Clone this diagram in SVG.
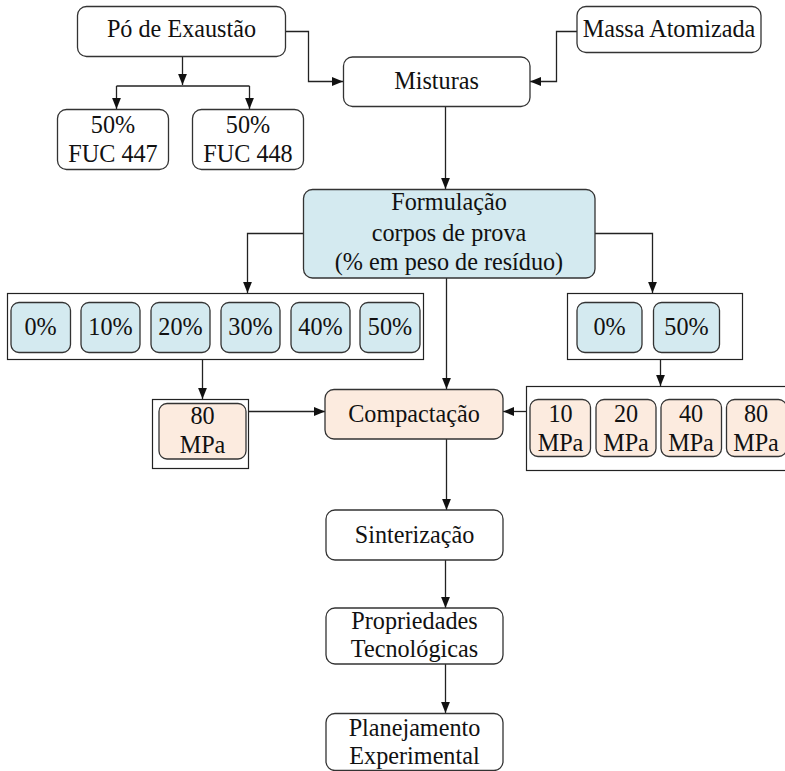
<svg xmlns="http://www.w3.org/2000/svg" width="785" height="771" viewBox="0 0 785 771">
  <style>
    .bg { fill: #ffffff; }
    .node { fill: #ffffff; stroke: #333333; stroke-width: 1.3; }
    .blue { fill: #d4eaf0; stroke: #333333; stroke-width: 1.3; }
    .peach { fill: #fcebdf; stroke: #333333; stroke-width: 1.3; }
    .frame { fill: #ffffff; stroke: #222222; stroke-width: 1.2; }
    .lbl { font-size: 24.2px; fill: #111111; text-anchor: middle; }
    .edge { fill: none; stroke: #222222; stroke-width: 1.3; }
  </style>
  <defs>
    <marker id="arrow" viewBox="0 0 10 8" refX="10" refY="4" markerWidth="11" markerHeight="9" markerUnits="userSpaceOnUse" orient="auto">
      <path d="M0,0 L10,4 L0,8 z" fill="#111111"/>
    </marker>
  </defs>
  <rect class="bg" x="0" y="0" width="785" height="771"/>

  <!-- group frames -->
  <rect id="frame-percent-left" class="frame" x="7.5" y="293.5" width="416" height="66"/>
  <rect id="frame-percent-right" class="frame" x="567.5" y="293.5" width="175" height="66"/>
  <rect id="frame-80mpa" class="frame" x="152.5" y="399.5" width="96" height="69"/>
  <rect id="frame-pressures" class="frame" x="526.5" y="386.5" width="280" height="84"/>

  <!-- connectors -->
  <g id="connectors">
    <path class="edge" d="M182.5,57 V85" marker-end="url(#arrow)"/>
    <path class="edge" d="M116.5,86 H249.5"/>
    <path class="edge" d="M116.5,86 V109" marker-end="url(#arrow)"/>
    <path class="edge" d="M249.5,86 V109" marker-end="url(#arrow)"/>
    <path class="edge" d="M286,31.5 H308.5 V81.5 H343" marker-end="url(#arrow)"/>
    <path class="edge" d="M577,31.5 H556.5 V81.5 H530" marker-end="url(#arrow)"/>
    <path class="edge" d="M445.5,107 V189" marker-end="url(#arrow)"/>
    <path class="edge" d="M303,233.5 H247.5 V293" marker-end="url(#arrow)"/>
    <path class="edge" d="M595,233.5 H652.5 V293" marker-end="url(#arrow)"/>
    <path class="edge" d="M446.5,278 V389" marker-end="url(#arrow)"/>
    <path class="edge" d="M202.5,360 V399" marker-end="url(#arrow)"/>
    <path class="edge" d="M660.5,360 V386" marker-end="url(#arrow)"/>
    <path class="edge" d="M249,411.5 H325" marker-end="url(#arrow)"/>
    <path class="edge" d="M526,411.5 H503" marker-end="url(#arrow)"/>
    <path class="edge" d="M446.5,439 V510" marker-end="url(#arrow)"/>
    <path class="edge" d="M445.5,560 V608" marker-end="url(#arrow)"/>
    <path class="edge" d="M445.5,664 V713" marker-end="url(#arrow)"/>
  </g>

  <g font-family="'Liberation Serif', serif">
  <g id="po-exaustao">
    <rect class="node" x="77.5" y="6.5" width="208" height="50" rx="9"/>
    <text class="lbl" x="181.5" y="37">Pó de Exaustão</text>
  </g>
  <g id="fuc-447">
    <rect class="node" x="57.5" y="109.5" width="111" height="60" rx="9"/>
    <text class="lbl" x="113" y="132.5">50%</text>
    <text class="lbl" x="113" y="162">FUC 447</text>
  </g>
  <g id="fuc-448">
    <rect class="node" x="192.5" y="109.5" width="111" height="60" rx="9"/>
    <text class="lbl" x="248" y="132.5">50%</text>
    <text class="lbl" x="248" y="162">FUC 448</text>
  </g>
  <g id="massa-atomizada">
    <rect class="node" x="577" y="6.5" width="184" height="46" rx="9"/>
    <text class="lbl" x="669" y="37">Massa Atomizada</text>
  </g>
  <g id="misturas">
    <rect class="node" x="343.5" y="57" width="186.5" height="49.5" rx="9"/>
    <text class="lbl" x="436.5" y="89">Misturas</text>
  </g>
  <g id="formulacao">
    <rect class="blue" x="303.5" y="189.5" width="291.5" height="88.5" rx="9"/>
    <text class="lbl" x="449" y="210">Formulação</text>
    <text class="lbl" x="449" y="241">corpos de prova</text>
    <text class="lbl" x="449" y="270">(% em peso de resíduo)</text>
  </g>

  <g id="pct-0">
    <rect class="blue" x="11" y="302.5" width="59.5" height="50" rx="8"/>
    <text class="lbl" x="40.5" y="335">0%</text>
  </g>
  <g id="pct-10">
    <rect class="blue" x="81" y="302.5" width="59" height="50" rx="8"/>
    <text class="lbl" x="110.5" y="335">10%</text>
  </g>
  <g id="pct-20">
    <rect class="blue" x="151" y="302.5" width="59" height="50" rx="8"/>
    <text class="lbl" x="180.5" y="335">20%</text>
  </g>
  <g id="pct-30">
    <rect class="blue" x="221" y="302.5" width="59" height="50" rx="8"/>
    <text class="lbl" x="250.5" y="335">30%</text>
  </g>
  <g id="pct-40">
    <rect class="blue" x="291" y="302.5" width="59" height="50" rx="8"/>
    <text class="lbl" x="320.5" y="335">40%</text>
  </g>
  <g id="pct-50">
    <rect class="blue" x="360" y="302.5" width="60" height="50" rx="8"/>
    <text class="lbl" x="390" y="335">50%</text>
  </g>

  <g id="pct-0-b">
    <rect class="blue" x="577" y="302.5" width="65" height="50" rx="8"/>
    <text class="lbl" x="609.5" y="335">0%</text>
  </g>
  <g id="pct-50-b">
    <rect class="blue" x="653.5" y="302.5" width="66" height="50" rx="8"/>
    <text class="lbl" x="686.5" y="335">50%</text>
  </g>

  <g id="mpa-80-a">
    <rect class="peach" x="159" y="403.5" width="87" height="55.5" rx="8"/>
    <text class="lbl" x="202.5" y="424">80</text>
    <text class="lbl" x="202.5" y="453">MPa</text>
  </g>

  <g id="compactacao">
    <rect class="peach" x="325" y="389.5" width="178" height="49.5" rx="9"/>
    <text class="lbl" x="414" y="422">Compactação</text>
  </g>

  <g id="mpa-10">
    <rect class="peach" x="530" y="399.5" width="60.5" height="57" rx="8"/>
    <text class="lbl" x="560.5" y="422">10</text>
    <text class="lbl" x="560.5" y="451">MPa</text>
  </g>
  <g id="mpa-20">
    <rect class="peach" x="596" y="399.5" width="60" height="57" rx="8"/>
    <text class="lbl" x="626" y="422">20</text>
    <text class="lbl" x="626" y="451">MPa</text>
  </g>
  <g id="mpa-40">
    <rect class="peach" x="661" y="399.5" width="60.5" height="57" rx="8"/>
    <text class="lbl" x="691" y="422">40</text>
    <text class="lbl" x="691" y="451">MPa</text>
  </g>
  <g id="mpa-80-b">
    <rect class="peach" x="726.5" y="399.5" width="60" height="57" rx="8"/>
    <text class="lbl" x="756" y="422">80</text>
    <text class="lbl" x="756" y="451">MPa</text>
  </g>

  <g id="sinterizacao">
    <rect class="node" x="326" y="510" width="177" height="50" rx="9"/>
    <text class="lbl" x="414.5" y="543">Sinterização</text>
  </g>
  <g id="propriedades">
    <rect class="node" x="326" y="608" width="177" height="56" rx="9"/>
    <text class="lbl" x="414.5" y="629">Propriedades</text>
    <text class="lbl" x="414.5" y="657">Tecnológicas</text>
  </g>
  <g id="planejamento">
    <rect class="node" x="326" y="713.5" width="177" height="57" rx="9"/>
    <text class="lbl" x="414.5" y="736">Planejamento</text>
    <text class="lbl" x="414.5" y="764">Experimental</text>
  </g>
  </g>
</svg>
